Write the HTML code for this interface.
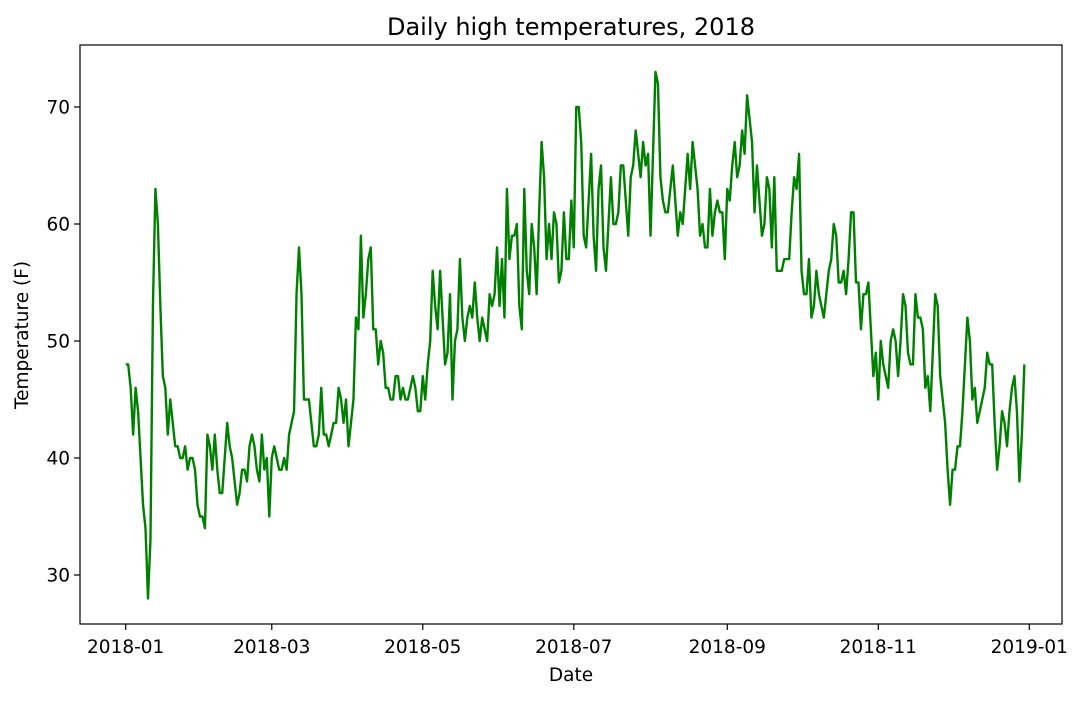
<!DOCTYPE html>
<html><head><meta charset="utf-8"><style>
body{margin:0;background:#fff;}
svg text{font-family:"DejaVu Sans","Liberation Sans",sans-serif;fill:#000;}
</style></head><body>
<svg id="chart" width="1087" height="697" xmlns="http://www.w3.org/2000/svg">
<rect width="1087" height="697" fill="#fff"/>
<text x="571" y="35" font-size="24" text-anchor="middle">Daily high temperatures, 2018</text>
<g id="plot"></g>
<rect x="80" y="45" width="982" height="579" fill="none" stroke="#000" stroke-width="1.2"/>
<text x="571" y="681" font-size="18.5" text-anchor="middle">Date</text>
<text transform="translate(28,335) rotate(-90)" font-size="18.5" text-anchor="middle">Temperature (F)</text>
</svg>
<script>
const temps = [48,48,46,42,46,44,40,36,34,28,33,53,63,60,53,47,46,42,45,43,41,41,40,40,41,39,40,40,39,36,35,35,34,42,41,39,42,39,37,37,40,43,41,40,38,36,37,39,39,38,41,42,41,39,38,42,39,40,35,
40,41,40,39,39,40,39,42,43,44,54,58,54,45,45,45,43,41,41,42,46,42,42,41,42,43,43,46,45,43,45,41,43,45,52,51,59,52,54,57,58,51,51,48,50,49,46,46,45,45,47,47,45,46,45,45,46,47,46,44,44,
47,45,48,50,56,53,51,56,52,48,49,54,45,50,51,57,52,50,52,53,52,55,52,50,52,51,50,54,53,54,58,53,57,52,63,57,59,59,60,53,51,63,56,54,60,58,54,61,67,64,57,60,57,61,60,55,56,61,57,57,62,58,70,
70,67,59,58,62,66,59,56,63,65,58,56,60,64,60,60,61,65,65,62,59,64,65,68,66,64,67,65,66,59,66,73,72,64,62,61,61,63,65,62,59,61,60,63,66,63,67,65,63,59,60,58,58,63,59,61,62,61,61,57,63,
62,65,67,64,65,68,66,71,69,67,61,65,62,59,60,64,63,58,64,56,56,56,57,57,57,61,64,63,66,56,54,54,57,52,53,56,54,53,52,54,56,57,60,59,55,55,56,54,57,61,61,55,55,51,54,54,55,
51,47,49,45,50,48,47,46,50,51,50,47,50,54,53,49,48,48,54,52,52,51,46,47,44,49,54,53,47,45,43,39,36,39,39,41,41,44,48,52,50,45,46,43,44,45,46,49,48,48,43,39,41,44,43,41,44,46,47,44,38,42,48];
const yTicks = [30,40,50,60,70];
const xTickLabels = ["2018-01","2018-03","2018-05","2018-07","2018-09","2018-11","2019-01"];
const xTickDays = [0,59,120,181,243,304,365];

const NS="http://www.w3.org/2000/svg";
const svg=document.getElementById('chart');
const plot=document.getElementById('plot');
const X=d=>125.7+d*(1029.3-125.7)/365;
const Y=v=>575-(v-30)*11.7;
function mk(tag,attrs,parent){const e=document.createElementNS(NS,tag);for(const k in attrs)e.setAttribute(k,attrs[k]);(parent||svg).appendChild(e);return e;}

let d="";
temps.forEach((t,i)=>{d+=(i?"L":"M")+X(i).toFixed(2)+","+Y(t).toFixed(2);});
const line=mk('path',{d:d,fill:"none",stroke:"#008000","stroke-width":"2.4","stroke-linejoin":"round"},plot);



yTicks.forEach(v=>{
  const tk=mk('line',{x1:80,x2:74,y1:Y(v),y2:Y(v),stroke:"#000","stroke-width":"1.2"});
  
  
  const tx=mk('text',{x:70,y:Y(v)+6.5,"font-size":"18.5","text-anchor":"end"});
  tx.textContent=v;
  
  
});
xTickLabels.forEach((lab,i)=>{
  const x=X(xTickDays[i]);
  const tk=mk('line',{x1:x,x2:x,y1:624,y2:630,stroke:"#000","stroke-width":"1.2"});
  
  
  const tx=mk('text',{x:x,y:653,"font-size":"18.5","text-anchor":"middle"});
  tx.textContent=lab;
  
  
});
</script>
</body></html>
